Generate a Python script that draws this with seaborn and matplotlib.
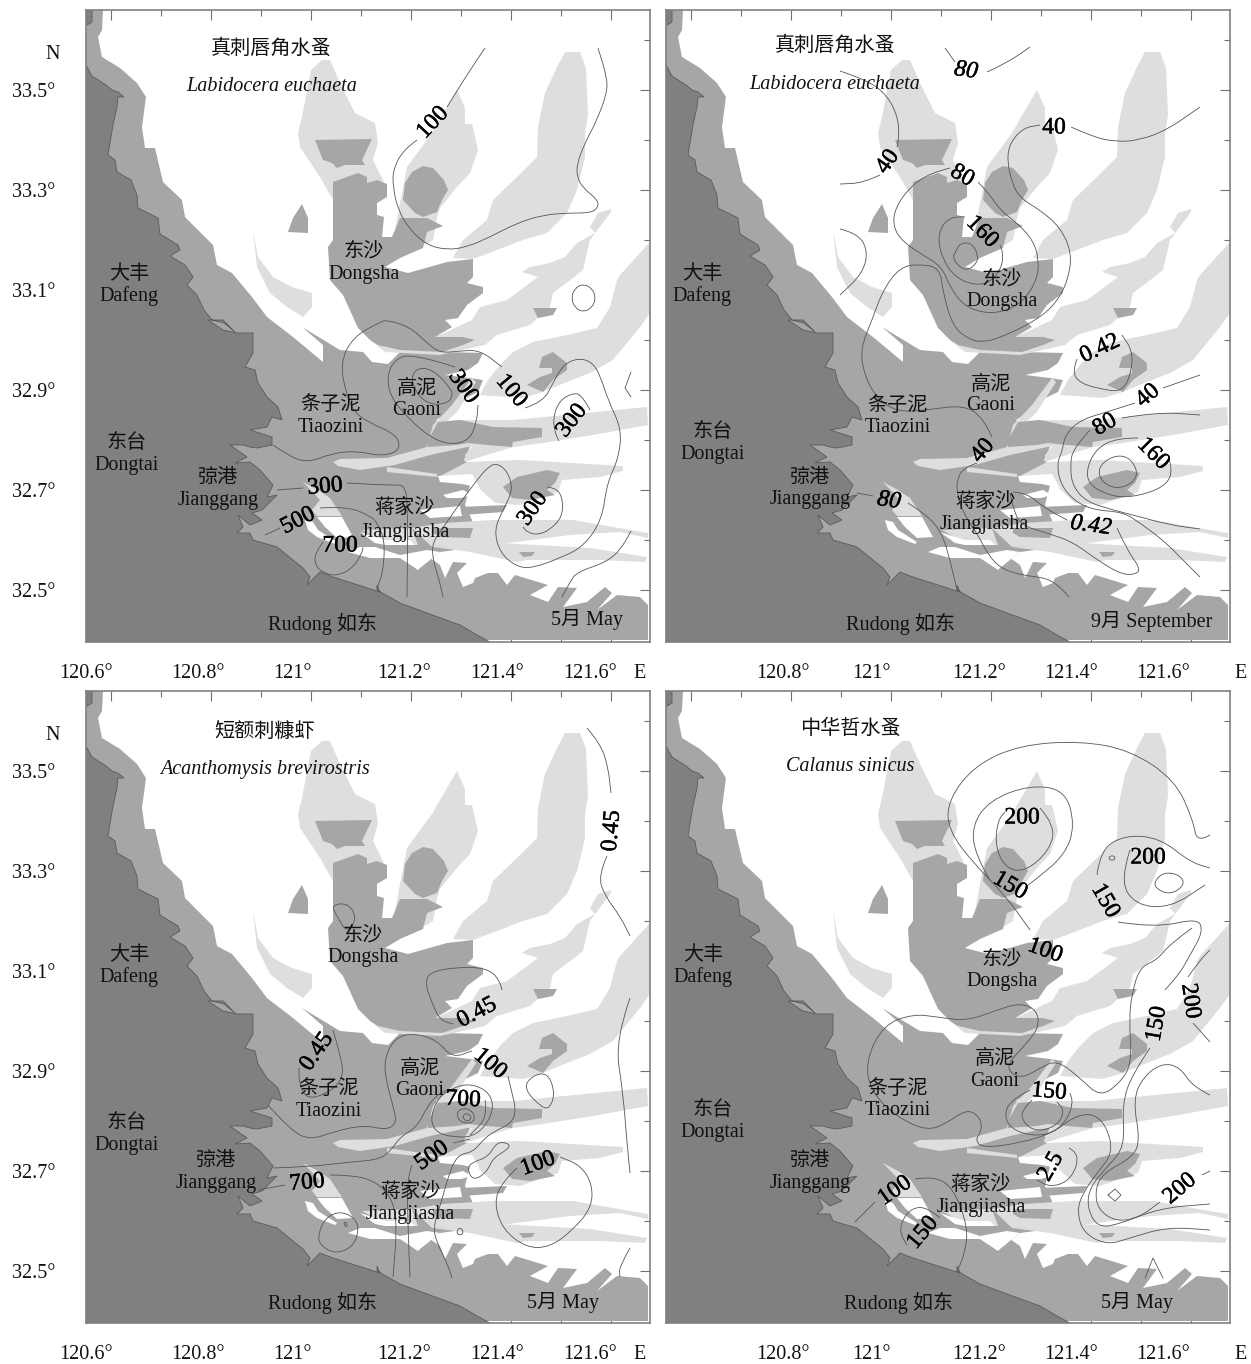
import matplotlib
matplotlib.use('Agg')
import matplotlib.pyplot as plt
import matplotlib.patheffects as pe
from matplotlib.path import Path
from matplotlib.patches import PathPatch
import seaborn as sb

LAND = '#808080'
SHOAL = '#a6a6a6'
BANK = '#dedede'
LINE = '#555555'

# Base map outlines, (lon, lat)
land = [(120.55,33.55),(120.562,33.528),(120.59,33.51),(120.602,33.5),(120.614,33.496),(120.626,33.486),(120.614,33.486),(120.612,33.466),(120.604,33.43),(120.594,33.37),(120.608,33.36),(120.612,33.336),(120.64,33.32),(120.652,33.29),(120.654,33.264),(120.682,33.25),(120.694,33.244),(120.698,33.212),(120.734,33.19),(120.738,33.18),(120.718,33.168),(120.748,33.15),(120.764,33.126),(120.752,33.11),(120.772,33.09),(120.786,33.06),(120.802,33.04),(120.826,33.034),(120.848,33.016),(120.824,33.04),(120.794,33.04),(120.824,33.02),(120.852,33.014),(120.884,33.014),(120.884,32.974),(120.868,32.946),(120.888,32.94),(120.894,32.914),(120.912,32.886),(120.934,32.866),(120.942,32.84),(120.922,32.846),(120.912,32.826),(120.878,32.82),(120.922,32.806),(120.922,32.79),(120.892,32.784),(120.878,32.786),(120.864,32.79),(120.838,32.79),(120.872,32.766),(120.848,32.754),(120.878,32.756),(120.898,32.74),(120.924,32.71),(120.912,32.686),(120.932,32.69),(120.902,32.66),(120.882,32.654),(120.902,32.64),(120.878,32.63),(120.854,32.65),(120.864,32.626),(120.852,32.614),(120.878,32.614),(120.884,32.6),(120.932,32.586),(120.964,32.56),(120.984,32.544),(120.998,32.526),(120.992,32.51),(121.018,32.536),(121.044,32.526),(121.138,32.496),(121.132,32.51),(121.132,32.5),(121.178,32.474),(121.232,32.454),(121.298,32.43),(121.332,32.41),(121.358,32.396),(120.55,32.396)]
land_corner = [(120.55,33.66),(120.562,33.66),(120.562,33.636),(120.552,33.63)]
main_shoal = [(120.55,33.66),(120.584,33.66),(120.582,33.62),(120.574,33.606),(120.582,33.566),(120.618,33.544),(120.652,33.514),(120.67,33.486),(120.662,33.426),(120.668,33.384),(120.688,33.384),(120.704,33.316),(120.742,33.28),(120.748,33.246),(120.804,33.19),(120.812,33.15),(120.842,33.134),(120.882,33.086),(120.912,33.046),(120.964,33.006),(121.024,32.956),(121.024,32.99),(120.982,33.026),(121.058,32.98),(121.104,32.976),(121.122,32.956),(121.154,32.952),(121.178,32.976),(121.262,32.976),(121.344,32.974),(121.334,32.954),(121.314,32.94),(121.268,32.93),(121.318,32.924),(121.344,32.92),(121.334,32.896),(121.288,32.874),(121.282,32.86),(121.25,32.84),(121.318,32.786),(121.306,32.76),(121.322,32.748),(121.322,32.724),(121.308,32.67),(121.322,32.64),(121.318,32.584),(121.258,32.576),(121.218,32.544),(121.238,32.564),(121.258,32.55),(121.268,32.524),(121.284,32.556),(121.312,32.554),(121.292,32.534),(121.304,32.506),(121.324,32.514),(121.328,32.524),(121.354,32.534),(121.374,32.534),(121.392,32.51),(121.408,32.53),(121.474,32.51),(121.438,32.49),(121.474,32.476),(121.494,32.506),(121.532,32.504),(121.504,32.466),(121.552,32.476),(121.588,32.506),(121.602,32.494),(121.572,32.46),(121.612,32.49),(121.658,32.486),(121.674,32.47),(121.674,32.4),(121.358,32.4),(120.55,32.396)]
dongsha = [(121.044,33.316),(121.094,33.334),(121.112,33.326),(121.112,33.314),(121.132,33.32),(121.152,33.312),(121.152,33.286),(121.132,33.274),(121.132,33.25),(121.146,33.246),(121.142,33.206),(121.162,33.206),(121.178,33.244),(121.232,33.244),(121.264,33.228),(121.232,33.216),(121.224,33.184),(121.178,33.164),(121.148,33.146),(121.194,33.134),(121.272,33.156),(121.324,33.162),(121.324,33.126),(121.312,33.114),(121.344,33.106),(121.344,33.094),(121.312,33.07),(121.294,33.044),(121.268,33.04),(121.282,33.026),(121.248,33.006),(121.304,33.006),(121.328,33.0),(121.304,32.99),(121.262,32.976),(121.178,32.98),(121.134,32.99),(121.118,33.0),(121.094,33.024),(121.064,33.09),(121.038,33.12),(121.034,33.186),(121.044,33.2)]
bank_nw = [(121.0,33.54),(121.022,33.56),(121.038,33.56),(121.058,33.514),(121.088,33.454),(121.128,33.434),(121.134,33.394),(121.124,33.36),(121.144,33.32),(121.152,33.286),(121.058,33.26),(121.044,33.28),(121.018,33.326),(120.978,33.386),(120.974,33.414),(120.982,33.446)]
bank_mid = [(121.292,33.5),(121.308,33.464),(121.308,33.432),(121.322,33.432),(121.334,33.38),(121.318,33.334),(121.292,33.306),(121.258,33.264),(121.252,33.244),(121.244,33.2),(121.228,33.19),(121.178,33.24),(121.168,33.22),(121.178,33.274),(121.192,33.346),(121.242,33.414),(121.272,33.466)]
bank_east = [(121.508,33.576),(121.538,33.576),(121.55,33.544),(121.554,33.45),(121.548,33.414),(121.548,33.366),(121.532,33.3),(121.512,33.254),(121.472,33.214),(121.424,33.2),(121.372,33.18),(121.324,33.162),(121.284,33.164),(121.304,33.2),(121.352,33.24),(121.364,33.28),(121.412,33.326),(121.452,33.366),(121.454,33.426),(121.468,33.494),(121.492,33.546)]
bank_west = [(120.884,33.22),(120.894,33.166),(120.924,33.126),(120.962,33.106),(121.002,33.094),(121.002,33.066),(120.984,33.046),(120.952,33.066),(120.918,33.094),(120.892,33.146)]
band_a = [(121.6,33.262),(121.574,33.254),(121.558,33.226),(121.568,33.214),(121.532,33.194),(121.508,33.166),(121.478,33.154),(121.438,33.146),(121.422,33.136),(121.454,33.126),(121.392,33.08),(121.338,33.066),(121.322,33.04),(121.258,33.01),(121.118,33.0),(121.148,32.976),(121.258,32.97),(121.348,32.99),(121.372,33.01),(121.438,33.03),(121.478,33.066),(121.484,33.094),(121.524,33.124),(121.544,33.14),(121.558,33.2),(121.6,33.256)]
band_b = [(121.678,33.196),(121.618,33.13),(121.612,33.12),(121.598,33.066),(121.572,33.024),(121.512,33.01),(121.444,32.996),(121.404,32.976),(121.378,32.95),(121.354,32.92),(121.338,32.89),(121.424,32.884),(121.458,32.894),(121.512,32.916),(121.558,32.934),(121.604,32.96),(121.658,33.026),(121.678,33.054)]
band_c = [(121.404,32.84),(121.672,32.866),(121.674,32.83),(121.564,32.81),(121.464,32.794),(121.404,32.786),(121.332,32.764),(121.308,32.756),(121.308,32.77),(121.322,32.786),(121.294,32.79),(121.254,32.836),(121.298,32.84)]
band_d = [(121.312,32.756),(121.418,32.76),(121.624,32.748),(121.624,32.738),(121.578,32.726),(121.502,32.72),(121.494,32.696),(121.418,32.67),(121.368,32.674),(121.318,32.72),(121.258,32.728)]
band_g1 = [(121.264,32.634),(121.364,32.64),(121.524,32.64),(121.638,32.62),(121.674,32.614),(121.674,32.604),(121.618,32.616),(121.518,32.61),(121.364,32.59),(121.242,32.586),(121.202,32.624)]
band_g2 = [(121.242,32.586),(121.378,32.594),(121.558,32.584),(121.672,32.566),(121.668,32.556),(121.578,32.56),(121.432,32.56),(121.412,32.556),(121.318,32.576)]
band_j = [(121.102,32.62),(121.202,32.624),(121.214,32.59),(121.168,32.59),(121.138,32.6)]
band_k = [(120.984,32.716),(121.014,32.7),(121.038,32.684),(121.062,32.648),(121.012,32.648),(121.002,32.66),(121.018,32.68)]
strip_s = [(121.044,32.756),(121.058,32.762),(121.152,32.764),(121.232,32.786),(121.244,32.83),(121.282,32.87),(121.322,32.924),(121.33,32.916),(121.292,32.856),(121.258,32.824),(121.25,32.79),(121.318,32.8),(121.322,32.788),(121.238,32.77),(121.168,32.75),(121.098,32.74),(121.054,32.748)]
strip_t = [(121.152,32.746),(121.252,32.732),(121.252,32.726),(121.152,32.736)]
islet = [(120.982,33.272),(120.994,33.244),(120.994,33.214),(120.954,33.216),(120.964,33.244)]
blob_nw = [(121.008,33.4),(121.122,33.402),(121.102,33.36),(121.108,33.35),(121.068,33.35),(121.052,33.344),(121.042,33.354),(121.024,33.36)]
blob_ne = [(121.224,33.348),(121.244,33.344),(121.266,33.32),(121.274,33.3),(121.262,33.28),(121.252,33.256),(121.224,33.246),(121.208,33.254),(121.184,33.28),(121.188,33.314),(121.202,33.336)]
blob_tiny = [(121.444,33.064),(121.492,33.064),(121.484,33.05),(121.454,33.044)]
blob_b = [(121.462,32.966),(121.484,32.976),(121.512,32.954),(121.512,32.94),(121.484,32.92),(121.464,32.896),(121.432,32.91),(121.458,32.926),(121.482,32.934),(121.482,32.944),(121.456,32.944)]
blob_e = [(121.254,32.836),(121.298,32.84),(121.364,32.826),(121.462,32.824),(121.462,32.806),(121.404,32.796),(121.402,32.786),(121.352,32.79),(121.314,32.794),(121.292,32.79),(121.234,32.786),(121.234,32.8)]
blob_f = [(121.384,32.706),(121.412,32.726),(121.472,32.74),(121.498,32.734),(121.488,32.714),(121.472,32.7),(121.488,32.69),(121.438,32.68),(121.402,32.684)]
blob_d = [(121.298,32.666),(121.392,32.67),(121.384,32.656),(121.304,32.65)]
blob_g = [(121.244,32.624),(121.324,32.624),(121.318,32.604),(121.258,32.606),(121.244,32.614)]
blob_h = [(121.416,32.576),(121.448,32.576),(121.442,32.568),(121.424,32.566)]
white_a = [(120.988,32.64),(121.004,32.636),(121.014,32.62),(121.052,32.596),(121.048,32.592),(121.012,32.606),(120.994,32.62)]
white_b = [(121.012,32.646),(121.062,32.646),(121.084,32.606),(121.052,32.604),(121.028,32.626)]
white_c = [(121.098,32.616),(121.148,32.6),(121.198,32.6),(121.208,32.59),(121.148,32.59),(121.128,32.594)]
white_d = [(121.074,32.576),(121.098,32.586),(121.128,32.586),(121.178,32.57),(121.232,32.58),(121.258,32.576),(121.218,32.544),(121.214,32.54),(121.178,32.564),(121.118,32.564)]
white_e = [(121.254,32.728),(121.322,32.732),(121.338,32.704),(121.302,32.712),(121.258,32.716)]
white_f = [(121.218,32.66),(121.298,32.668),(121.302,32.648),(121.238,32.644)]
white_g = [(121.264,32.69),(121.304,32.7),(121.322,32.69),(121.3,32.684),(121.272,32.684)]

light_shapes = [bank_nw, bank_mid, bank_east, bank_west, band_a, band_b, band_c, band_d, band_g1, band_g2, band_j, band_k, strip_s, strip_t]
mid_shapes = [dongsha, islet, blob_nw, blob_ne, blob_tiny, blob_b, blob_e, blob_f, blob_d, blob_g, blob_h]
white_shapes = [white_a, white_b, white_c, white_d, white_e, white_f, white_g]

# Contours with sharp corners in the picture
notch = [(121.64,32.936),(121.628,32.904),(121.64,32.886)]
diamond = [(121.434,32.652),(121.448,32.664),(121.46,32.652),(121.448,32.64),(121.434,32.652)]
peak = [(121.508,32.486),(121.524,32.526),(121.544,32.486)]
sharp_lines = [notch, diamond, peak]

# Contours of the four panels
may_euchaeta = [
    [(121.348,33.584),(121.318,33.54),(121.272,33.466)],
    [(121.212,33.4),(121.184,33.38),(121.164,33.34),(121.164,33.306),(121.174,33.26),(121.198,33.22),(121.232,33.19),(121.272,33.18),(121.312,33.186),(121.358,33.206),(121.412,33.234),(121.464,33.25),(121.512,33.254),(121.558,33.254),(121.574,33.264),(121.574,33.28),(121.544,33.304),(121.532,33.326),(121.532,33.354),(121.548,33.394),(121.572,33.44),(121.592,33.494),(121.592,33.526),(121.574,33.584)],
    [(121.52,33.084),(121.528,33.104),(121.544,33.112),(121.562,33.104),(121.57,33.084),(121.562,33.064),(121.544,33.056),(121.528,33.064),(121.52,33.084)],
    [(120.924,32.79),(120.952,32.77),(120.992,32.754),(121.044,32.774),(121.092,32.778),(121.138,32.768),(121.172,32.776),(121.178,32.794),(121.164,32.814),(121.118,32.834),(121.088,32.854),(121.072,32.886),(121.058,32.954),(121.084,33.006),(121.138,33.036),(121.152,33.04),(121.198,33.026),(121.232,32.994),(121.258,32.974),(121.298,32.978),(121.338,32.98),(121.382,32.946)],
    [(121.428,32.864),(121.464,32.876),(121.484,32.914),(121.504,32.95),(121.534,32.964),(121.562,32.956),(121.578,32.93),(121.594,32.88),(121.622,32.82),(121.614,32.76),(121.592,32.714),(121.582,32.64),(121.544,32.586),(121.498,32.564),(121.444,32.544),(121.412,32.546),(121.378,32.574),(121.366,32.62),(121.384,32.66),(121.404,32.7),(121.394,32.736),(121.372,32.754),(121.354,32.746),(121.332,32.72),(121.298,32.674),(121.268,32.63),(121.242,32.594),(121.244,32.56),(121.258,32.514),(121.264,32.486)],
    [(121.288,32.946),(121.258,32.956),(121.198,32.97),(121.172,32.964),(121.152,32.934),(121.158,32.886),(121.198,32.84),(121.238,32.806),(121.278,32.79),(121.318,32.8),(121.332,32.84),(121.334,32.87)],
    [(121.278,32.904),(121.252,32.934),(121.224,32.946),(121.204,32.936),(121.202,32.914),(121.218,32.884),(121.244,32.87),(121.274,32.874),(121.284,32.89),(121.278,32.904)],
    [(121.558,32.86),(121.542,32.89),(121.524,32.894),(121.498,32.88),(121.484,32.846),(121.488,32.814),(121.496,32.798)],
    [(121.472,32.706),(121.492,32.704),(121.504,32.68),(121.502,32.646),(121.478,32.62),(121.452,32.61),(121.432,32.616),(121.424,32.626)],
    [(121.64,32.618),(121.624,32.586),(121.592,32.556),(121.532,32.536),(121.518,32.516),(121.502,32.486)],
    notch,
    [(120.932,32.7),(120.984,32.704)],
    [(121.072,32.714),(121.138,32.71),(121.178,32.71),(121.184,32.708),(121.194,32.686),(121.192,32.486)],
    [(121.018,32.664),(121.072,32.668),(121.122,32.646),(121.132,32.634),(121.148,32.6),(121.144,32.534),(121.132,32.504)],
    [(120.908,32.61),(120.938,32.624)],
    [(121.024,32.596),(121.008,32.574),(121.008,32.55),(121.024,32.534),(121.052,32.528),(121.084,32.544),(121.102,32.574),(121.104,32.586)],
]
may_euchaeta_labels = [('100',121.244,33.436,47,False),('300',121.304,32.908,-55,False),('100',121.4,32.9,-50,False),('300',121.522,32.84,52,False),('300',121.444,32.664,55,False),('300',121.028,32.708,5,False),('500',120.974,32.64,27,False),('700',121.058,32.59,0,False)]

sep_euchaeta = [
    [(121.108,33.584),(121.128,33.556)],
    [(121.192,33.536),(121.232,33.554),(121.278,33.586)],
    [(120.898,33.538),(120.952,33.52),(120.992,33.49),(121.014,33.446),(121.016,33.406),(121.012,33.386)],
    [(120.978,33.33),(120.944,33.314),(120.898,33.312)],
    [(121.202,32.806),(121.184,32.846),(121.144,32.87),(121.072,32.86),(121.012,32.856),(120.972,32.884),(120.948,32.926),(120.938,32.98),(120.962,33.04),(120.984,33.1),(121.018,33.146),(121.058,33.152),(121.098,33.144),(121.104,33.094),(121.124,33.026),(121.158,33.0),(121.184,32.996),(121.218,33.004),(121.292,33.04),(121.332,33.076),(121.354,33.12),(121.362,33.174),(121.338,33.226),(121.298,33.26),(121.258,33.284),(121.242,33.314),(121.232,33.36),(121.238,33.394),(121.264,33.424),(121.298,33.43)],
    [(121.36,33.426),(121.404,33.406),(121.452,33.396),(121.498,33.4),(121.552,33.42),(121.618,33.466)],
    [(121.118,33.344),(121.078,33.334),(121.038,33.306),(121.008,33.264),(121.004,33.226),(121.024,33.196),(121.064,33.17),(121.102,33.146),(121.118,33.106),(121.144,33.07),(121.184,33.054),(121.224,33.056),(121.264,33.076),(121.292,33.12),(121.296,33.16),(121.284,33.2),(121.252,33.234),(121.218,33.26),(121.198,33.29),(121.174,33.316)],
    [(121.148,33.246),(121.124,33.248),(121.102,33.23),(121.094,33.2),(121.104,33.16),(121.128,33.126),(121.164,33.11),(121.198,33.114),(121.222,33.146),(121.224,33.174),(121.218,33.19)],
    [(121.128,33.174),(121.138,33.194),(121.162,33.194),(121.174,33.17),(121.172,33.154),(121.152,33.138),(121.132,33.15),(121.124,33.166),(121.128,33.174)],
    [(120.898,33.222),(120.932,33.214),(120.954,33.18),(120.944,33.134),(120.898,33.09)],
    [(121.372,32.962),(121.362,32.936),(121.378,32.914),(121.418,32.902),(121.464,32.896),(121.482,32.94),(121.482,32.98),(121.462,33.01)],
    [(121.544,32.904),(121.618,32.93)],
    [(121.488,32.874),(121.432,32.856),(121.378,32.84),(121.348,32.81),(121.342,32.776),(121.332,32.754),(121.338,32.714),(121.364,32.68),(121.404,32.66),(121.464,32.656),(121.498,32.634),(121.544,32.6),(121.584,32.56),(121.618,32.526)],
    [(121.398,32.82),(121.364,32.784),(121.358,32.746),(121.364,32.706),(121.392,32.676),(121.444,32.66),(121.484,32.65),(121.558,32.63),(121.618,32.622)],
    [(121.462,32.844),(121.532,32.856),(121.618,32.85)],
    [(121.494,32.804),(121.452,32.804),(121.412,32.784),(121.392,32.746),(121.394,32.714),(121.424,32.694),(121.464,32.684),(121.518,32.694),(121.554,32.714),(121.562,32.74),(121.554,32.77)],
    [(121.414,32.736),(121.424,32.756),(121.452,32.77),(121.478,32.764),(121.494,32.736),(121.484,32.714),(121.452,32.702),(121.424,32.714),(121.414,32.736)],
    [(121.172,32.754),(121.144,32.744),(121.132,32.72),(121.132,32.694),(121.144,32.654),(121.172,32.614),(121.192,32.574),(121.218,32.544),(121.258,32.53),(121.312,32.524),(121.338,32.506),(121.356,32.486)],
    [(121.244,32.696),(121.272,32.694),(121.304,32.666),(121.352,32.64)],
    [(121.452,32.624),(121.472,32.58),(121.498,32.544),(121.492,32.532),(121.464,32.53),(121.418,32.556),(121.364,32.596),(121.312,32.614),(121.258,32.63),(121.244,32.666),(121.238,32.694)],
    [(120.932,32.694),(120.964,32.688)],
    [(121.034,32.674),(121.072,32.65),(121.102,32.614),(121.118,32.56),(121.132,32.5)],
]
sep_euchaeta_labels = [('80',121.15,33.54,-8,True),('40',120.994,33.358,55,False),('40',121.326,33.426,0,False),('80',121.142,33.33,-30,False),('160',121.182,33.218,-45,False),('0.42',121.418,32.984,25,False),('40',121.514,32.89,40,False),('80',121.428,32.832,30,False),('160',121.524,32.774,-45,False),('40',121.184,32.78,50,False),('0.42',121.4,32.63,-8,True),('80',120.996,32.68,-8,True)]

may_brevirostris = [
    [(121.552,33.586),(121.578,33.556),(121.594,33.51),(121.6,33.456)],
    [(121.592,33.33),(121.574,33.29),(121.588,33.25),(121.618,33.21),(121.638,33.17)],
    [(121.04,33.232),(121.072,33.236),(121.09,33.212),(121.082,33.186),(121.068,33.182),(121.054,33.206),(121.04,33.232)],
    [(121.382,33.062),(121.378,33.082),(121.352,33.106),(121.292,33.108),(121.238,33.098),(121.228,33.076),(121.242,33.036),(121.258,33.002),(121.284,32.994)],
    [(121.044,32.982),(121.062,32.922),(121.064,32.886),(121.038,32.858),(120.992,32.842),(120.976,32.876),(120.976,32.906)],
    [(120.914,32.832),(120.958,32.782),(120.998,32.762),(121.044,32.778),(121.104,32.792),(121.152,32.782),(121.17,32.796),(121.168,32.816),(121.148,32.888),(121.148,32.928),(121.168,32.966),(121.204,32.976),(121.252,32.962),(121.282,32.926),(121.322,32.94)],
    [(121.394,32.89),(121.402,32.856),(121.41,32.822),(121.402,32.796),(121.364,32.778),(121.344,32.762),(121.324,32.738),(121.292,32.732),(121.274,32.688),(121.262,32.642),(121.244,32.588),(121.252,32.556),(121.272,32.516),(121.282,32.486)],
    [(121.272,32.86),(121.312,32.876),(121.352,32.862),(121.366,32.832),(121.354,32.796),(121.324,32.768),(121.284,32.768),(121.252,32.776),(121.238,32.802),(121.252,32.842),(121.272,32.86)],
    [(121.348,32.842),(121.354,32.808),(121.318,32.772)],
    [(121.294,32.822),(121.314,32.826),(121.328,32.812),(121.324,32.796),(121.302,32.796),(121.292,32.808),(121.294,32.822)],
    [(121.304,32.812),(121.314,32.816),(121.322,32.806),(121.312,32.798),(121.304,32.806),(121.304,32.812)],
    [(120.924,32.706),(120.992,32.708),(121.078,32.718),(121.132,32.722),(121.158,32.738),(121.178,32.768),(121.212,32.788),(121.232,32.828),(121.252,32.852),(121.272,32.862)],
    [(121.284,32.756),(121.318,32.764)],
    [(121.202,32.712),(121.192,32.688),(121.194,32.588),(121.198,32.488)],
    [(120.894,32.662),(120.948,32.672)],
    [(121.038,32.692),(121.084,32.692),(121.132,32.678),(121.164,32.642),(121.172,32.588),(121.164,32.488)],
    [(121.014,32.572),(121.028,32.606),(121.058,32.62),(121.088,32.606),(121.096,32.582),(121.084,32.548),(121.048,32.534),(121.018,32.552),(121.014,32.572)],
    [(121.064,32.596),(121.072,32.598),(121.072,32.586),(121.064,32.596)],
    [(121.372,32.758),(121.394,32.756),(121.398,32.746),(121.364,32.726),(121.352,32.698),(121.324,32.68),(121.312,32.706),(121.324,32.718),(121.354,32.728),(121.372,32.758)],
    [(121.424,32.866),(121.444,32.892),(121.474,32.896),(121.488,32.856),(121.478,32.826),(121.462,32.826),(121.424,32.866)],
    [(121.412,32.706),(121.382,32.678),(121.366,32.636),(121.384,32.582),(121.432,32.546),(121.478,32.548),(121.524,32.582),(121.562,32.628),(121.562,32.676),(121.538,32.712),(121.498,32.728)],
    [(121.29,32.578),(121.298,32.588),(121.306,32.578),(121.298,32.57),(121.29,32.578)],
    [(121.638,33.046),(121.608,32.962),(121.624,32.856),(121.632,32.756),(121.638,32.696)],
    [(121.638,32.546),(121.616,32.508),(121.618,32.488)],
]
may_brevirostris_labels = [('0.45',121.602,33.382,85,False),('0.45',121.332,33.018,28,False),('0.45',121.012,32.94,55,False),('100',121.358,32.916,-40,False),('700',121.304,32.844,-3,False),('500',121.242,32.732,35,False),('700',120.992,32.678,5,False),('100',121.454,32.716,20,False)]

may_sinicus = [
    [(121.638,33.372),(121.612,33.356),(121.604,33.402),(121.568,33.482),(121.478,33.542),(121.378,33.56),(121.258,33.552),(121.168,33.512),(121.114,33.442),(121.114,33.382),(121.168,33.312),(121.228,33.252),(121.278,33.182)],
    [(121.602,33.186),(121.558,33.154),(121.532,33.122),(121.498,33.108),(121.482,33.056),(121.476,33.002),(121.482,32.916),(121.458,32.876),(121.418,32.848),(121.378,32.886),(121.332,32.922),(121.298,32.906),(121.264,32.886),(121.238,32.896),(121.234,32.916),(121.272,32.956),(121.296,32.988),(121.292,33.022),(121.258,33.036),(121.212,33.022),(121.152,33.0),(121.092,33.008),(121.044,33.014),(120.984,32.992),(120.948,32.916),(120.962,32.856),(121.012,32.808),(121.072,32.78),(121.112,32.796),(121.152,32.824),(121.178,32.808),(121.182,32.782),(121.168,32.762),(121.184,32.746),(121.258,32.756),(121.324,32.776),(121.364,32.808),(121.404,32.816),(121.432,32.788),(121.444,32.736),(121.412,32.696),(121.384,32.656),(121.372,32.622),(121.384,32.576),(121.432,32.552),(121.478,32.566),(121.552,32.588),(121.638,32.582)],
    [(121.454,33.198),(121.528,33.186),(121.614,33.206),(121.624,33.178),(121.598,33.132),(121.578,33.096),(121.548,33.062)],
    [(121.518,32.946),(121.484,32.896),(121.462,32.836),(121.468,32.748),(121.432,32.708),(121.398,32.668),(121.392,32.628),(121.412,32.588),(121.452,32.592),(121.538,32.626),(121.638,32.634)],
    [(121.638,32.852),(121.604,32.868),(121.578,32.908),(121.542,32.916),(121.504,32.888),(121.484,32.842),(121.498,32.762),(121.484,32.728),(121.424,32.696),(121.408,32.662),(121.414,32.622),(121.452,32.598),(121.498,32.608),(121.538,32.638)],
    [(121.622,32.692),(121.638,32.7)],
    [(121.594,33.088),(121.618,33.122),(121.638,33.142)],
    [(121.604,32.996),(121.638,32.958)],
    [(121.198,33.282),(121.168,33.332),(121.162,33.392),(121.198,33.442),(121.278,33.472),(121.348,33.462),(121.368,33.392),(121.348,33.332),(121.288,33.282),(121.274,33.272)],
    [(121.298,33.426),(121.328,33.392),(121.318,33.342),(121.268,33.298),(121.228,33.306),(121.208,33.352),(121.214,33.402),(121.228,33.418)],
    [(121.412,33.292),(121.418,33.342),(121.468,33.372),(121.538,33.366),(121.598,33.318),(121.638,33.306)],
    [(121.478,33.342),(121.458,33.282),(121.488,33.232),(121.558,33.226),(121.628,33.272)],
    [(121.528,33.282),(121.548,33.298),(121.578,33.292),(121.588,33.272),(121.558,33.252),(121.528,33.266),(121.528,33.282)],
    [(121.434,33.326),(121.442,33.332),(121.45,33.326),(121.442,33.32),(121.434,33.326)],
    [(121.356,32.746),(121.372,32.738),(121.372,32.708),(121.352,32.678),(121.318,32.668),(121.292,32.682)],
    [(121.278,32.862),(121.238,32.842),(121.226,32.808),(121.244,32.782),(121.284,32.77),(121.324,32.776),(121.352,32.802),(121.364,32.836),(121.358,32.856)],
    [(121.282,32.842),(121.262,32.822),(121.262,32.802),(121.282,32.782),(121.312,32.782),(121.338,32.798),(121.346,32.822),(121.332,32.838)],
    [(120.968,32.638),(120.928,32.598)],
    [(121.048,32.684),(121.084,32.69),(121.124,32.668),(121.154,32.588),(121.148,32.536),(121.132,32.498)],
    [(121.098,32.606),(121.072,32.628),(121.042,32.626),(121.022,32.602),(121.018,32.576),(121.032,32.552)],
    peak,
    diamond,
]
may_sinicus_labels = [('200',121.262,33.408,0,False),('150',121.238,33.272,-30,False),('200',121.514,33.328,0,False),('150',121.428,33.242,-60,False),('100',121.308,33.142,-20,False),('150',121.532,32.996,80,False),('200',121.598,33.042,-82,False),('150',121.316,32.86,-5,False),('2.5',121.32,32.71,60,False),('200',121.578,32.666,40,False),('100',121.008,32.662,35,False),('150',121.064,32.578,50,False)]

# Place names: text, lon, lat
names_top_left = [('真刺唇角水蚤',120.92,33.586,False),('Labidocera euchaeta',120.922,33.512,True),('大丰',120.636,33.136,False),('Dafeng',120.636,33.092,False),('东沙',121.106,33.18,False),('Dongsha',121.106,33.136,False),('高泥',121.212,32.906,False),('Gaoni',121.212,32.864,False),('条子泥',121.04,32.874,False),('Tiaozini',121.04,32.83,False),('东台',120.632,32.798,False),('Dongtai',120.632,32.754,False),('弶港',120.814,32.728,False),('Jianggang',120.814,32.684,False),('蒋家沙',121.186,32.668,False),('Jiangjiasha',121.188,32.62,False),('Rudong 如东',121.022,32.438,False),('5月 May',121.552,32.446,False)]
names_top_right = [('真刺唇角水蚤',120.888,33.592,False),('Labidocera euchaeta',120.888,33.516,True),('大丰',120.622,33.136,False),('Dafeng',120.622,33.092,False),('东沙',121.222,33.126,False),('Dongsha',121.222,33.082,False),('高泥',121.2,32.914,False),('Gaoni',121.2,32.874,False),('条子泥',121.014,32.872,False),('Tiaozini',121.014,32.83,False),('东台',120.644,32.82,False),('Dongtai',120.644,32.776,False),('弶港',120.838,32.728,False),('Jianggang',120.838,32.686,False),('蒋家沙',121.188,32.68,False),('Jiangjiasha',121.186,32.636,False),('Rudong 如东',121.018,32.438,False),('9月 September',121.522,32.442,False)]
names_bottom_left = [('短额刺糠虾',120.908,33.582,False),('Acanthomysis brevirostris',120.908,33.508,True),('大丰',120.636,33.136,False),('Dafeng',120.636,33.092,False),('东沙',121.104,33.176,False),('Dongsha',121.104,33.132,False),('高泥',121.218,32.908,False),('Gaoni',121.218,32.866,False),('条子泥',121.036,32.868,False),('Tiaozini',121.036,32.824,False),('东台',120.632,32.8,False),('Dongtai',120.632,32.756,False),('弶港',120.81,32.724,False),('Jianggang',120.81,32.68,False),('蒋家沙',121.198,32.662,False),('Jiangjiasha',121.198,32.618,False),('Rudong 如东',121.022,32.442,False),('5月 May',121.504,32.442,False)]
names_bottom_right = [('中华哲水蚤',120.918,33.588,False),('Calanus sinicus',120.918,33.514,True),('大丰',120.624,33.136,False),('Dafeng',120.624,33.092,False),('东沙',121.222,33.128,False),('Dongsha',121.222,33.084,False),('高泥',121.208,32.928,False),('Gaoni',121.208,32.884,False),('条子泥',121.014,32.868,False),('Tiaozini',121.014,32.826,False),('东台',120.644,32.826,False),('Dongtai',120.644,32.782,False),('弶港',120.838,32.724,False),('Jianggang',120.838,32.68,False),('蒋家沙',121.178,32.676,False),('Jiangjiasha',121.18,32.632,False),('Rudong 如东',121.016,32.442,False),('5月 May',121.492,32.442,False)]

x_ticks = [120.6, 120.8, 121.0, 121.2, 121.4, 121.6]
x_tick_text = ['120.6°', '120.8°', '121°', '121.2°', '121.4°', '121.6°']
x_text_left = [120.55, 120.774, 120.962, 121.186, 121.372, 121.558]
x_text_right = [120.784, 120.96, 121.176, 121.36, 121.544]
y_ticks = [32.5, 32.7, 32.9, 33.1, 33.3, 33.5]
y_tick_text = ['32.5°', '32.7°', '32.9°', '33.1°', '33.3°', '33.5°']

sb.set_style('white')
plt.rcParams['font.family'] = ['Liberation Serif', 'Noto Sans CJK SC']
plt.rcParams['axes.unicode_minus'] = False

W, H = 1251, 1364
fig = plt.figure(figsize=(W / 100, H / 100), dpi=100)


def make_axes(left, top):
    return fig.add_axes([left / W, 1 - (top + 632) / H, 564 / W, 632 / H])


# Rounds the corners of a drawn line with quadratic curves
def rounded(xy):
    pts = [tuple(p) for p in xy]
    mid = lambda a, b: ((a[0] + b[0]) / 2, (a[1] + b[1]) / 2)
    if pts[0] == pts[-1]:
        pts = pts[:-1]
        verts = [mid(pts[-1], pts[0])]
        codes = [Path.MOVETO]
        for i, p in enumerate(pts):
            verts += [p, mid(p, pts[(i + 1) % len(pts)])]
            codes += [Path.CURVE3, Path.CURVE3]
    else:
        verts = [pts[0]]
        codes = [Path.MOVETO]
        for i in range(1, len(pts) - 1):
            verts += [pts[i], mid(pts[i], pts[i + 1])]
            codes += [Path.CURVE3, Path.CURVE3]
        verts.append(pts[-1])
        codes.append(Path.LINETO)
    return Path(verts, codes)


def draw_panel(ax, lines, labels, names, has_y, x_text, x_labels):
    for shape in [main_shoal] + light_shapes + mid_shapes + white_shapes + [land, land_corner]:
        if shape in light_shapes:
            colour = BANK
        elif shape in white_shapes:
            colour = 'white'
        elif shape is land or shape is land_corner:
            colour = LAND
        else:
            colour = SHOAL
        lons, lats = zip(*shape)
        edge = '#5a5a5a' if colour == LAND else colour
        ax.fill(lons, lats, facecolor=colour, edgecolor=edge, linewidth=0.6 if colour == LAND else 0)

    for line in lines:
        lons, lats = zip(*line)
        sb.lineplot(x=list(lons), y=list(lats), sort=False, estimator=None, color=LINE,
                    linewidth=0.6, ax=ax, legend=False)
        if line in sharp_lines:
            continue
        drawn = ax.lines[-1]
        ax.add_patch(PathPatch(rounded(drawn.get_xydata()), fill=False, edgecolor=LINE, linewidth=0.6))
        drawn.set_visible(False)

    for text, lon, lat, rot, ital in labels:
        ax.text(lon, lat - 0.002, text, fontsize=17, rotation=rot, ha='center', va='center',
                rotation_mode='anchor', color='black', style='italic' if ital else 'normal',
                path_effects=[pe.withStroke(linewidth=0.3, foreground='black')])

    for text, lon, lat, ital in names:
        ax.text(lon, lat - 0.005, text, fontsize=14.5, ha='center', va='center', color='#111111',
                style='italic' if ital else 'normal')

    ax.set_xlim(120.55, 121.678)
    ax.set_ylim(32.396, 33.66)
    ax.set_xticks(x_ticks)
    ax.set_xticks([120.7, 120.9, 121.1, 121.3, 121.5], minor=True)
    ax.set_yticks(y_ticks)
    ax.set_yticks([32.6, 32.8, 33.0, 33.2, 33.4, 33.6], minor=True)
    ax.set_xticklabels([])
    if has_y:
        ax.set_yticklabels(y_tick_text, fontsize=14.5, color='#111111')
    else:
        ax.set_yticklabels([])
    ax.tick_params(which='major', direction='in', length=7, width=0.8, color='#707070',
                   top=True, bottom=True, left=True, right=True, pad=22)
    ax.tick_params(which='minor', direction='in', length=4, width=0.8, color='#707070',
                   top=True, bottom=True, left=True, right=True)
    for spine in ax.spines.values():
        spine.set_color('#808080')
        spine.set_linewidth(1.2)
    ax.set_xlabel('')
    ax.set_ylabel('')

    trans = ax.get_xaxis_transform()
    for lon, text in zip(x_text, x_labels):
        ax.annotate(text, xy=(lon, 0), xycoords=trans, xytext=(0, -22.5), textcoords='offset points',
                    fontsize=14.5, ha='center', va='center', color='#111111', annotation_clip=False)
    e_x = 0.981 if has_y else 1.018
    ax.annotate('E', xy=(e_x, 0), xycoords='axes fraction', xytext=(0, -22.5), textcoords='offset points',
                fontsize=14.5, ha='center', va='center', color='#111111', annotation_clip=False)


ax_tl = make_axes(86, 10)
ax_tr = make_axes(666, 10)
ax_bl = make_axes(86, 691)
ax_br = make_axes(666, 691)

draw_panel(ax_tl, may_euchaeta, may_euchaeta_labels, names_top_left, True, x_text_left, x_tick_text)
draw_panel(ax_tr, sep_euchaeta, sep_euchaeta_labels, names_top_right, False, x_text_right, x_tick_text[1:])
draw_panel(ax_bl, may_brevirostris, may_brevirostris_labels, names_bottom_left, True, x_text_left, x_tick_text)
draw_panel(ax_br, may_sinicus, may_sinicus_labels, names_bottom_right, False, x_text_right, x_tick_text[1:])

for ax in [ax_tl, ax_bl]:
    ax.annotate('N', xy=(0, 1), xycoords='axes fraction', xytext=(-24, -32), textcoords='offset points',
                fontsize=14.5, ha='center', va='center', color='#111111', annotation_clip=False)

fig.savefig('out.png', dpi=100)
